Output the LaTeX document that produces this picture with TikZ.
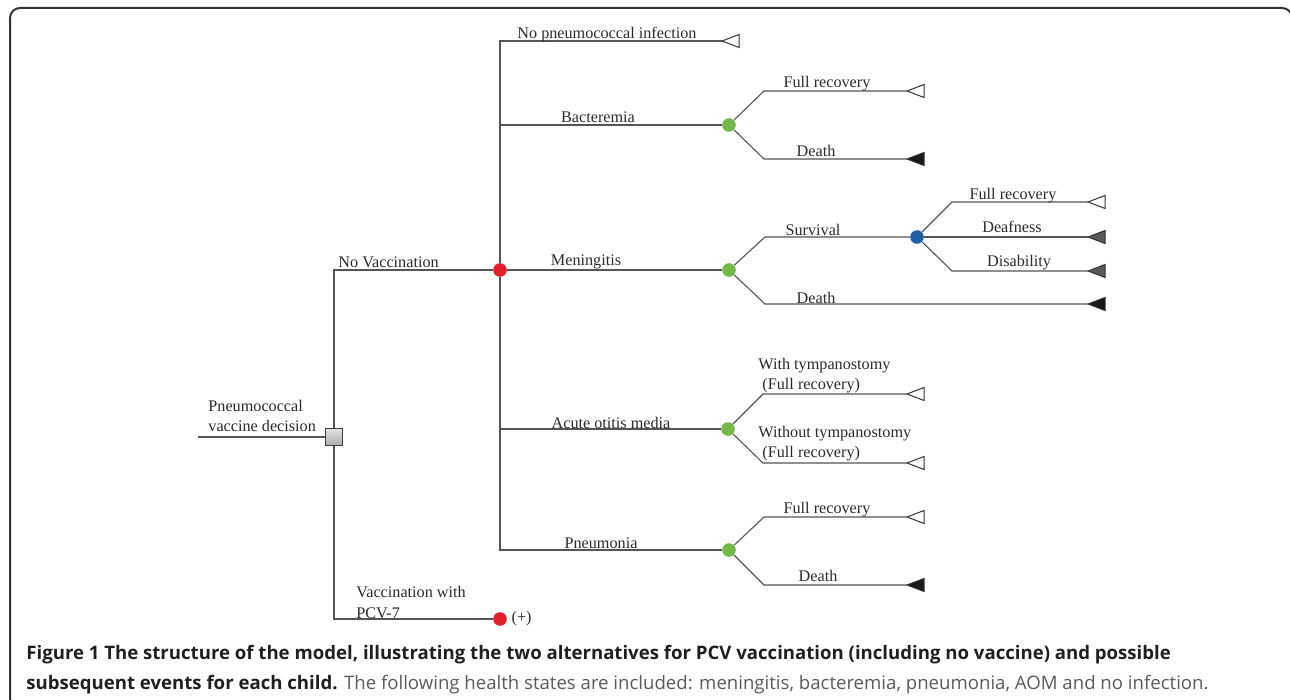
\documentclass[tikz,border=0pt]{standalone}
\usepackage{fontspec}
\setmainfont{Liberation Serif}
\newfontfamily\capfont{Open Sans}
\usetikzlibrary{positioning}

\definecolor{chancered}{HTML}{E3202A}
\definecolor{chancegreen}{HTML}{72B84A}
\definecolor{chanceblue}{HTML}{1F5FA8}
\definecolor{branchgray}{HTML}{555555}
\definecolor{textgray}{HTML}{2B2B2B}
\definecolor{capgray}{HTML}{5A5A5C}

\begin{document}
\begin{tikzpicture}[x=0.5pt,y=-0.5pt,
	branch/.style={draw=branchgray,line width=0.55pt},
	chance/.style={circle,inner sep=0pt,minimum size=6.8pt},
	decision/.style={draw=black!75,line width=0.6pt,top color=black!12,bottom color=black!32,
		minimum size=8.5pt,inner sep=0pt},
	lbl/.style={text=textgray,font=\fontsize{8.1}{10}\selectfont,inner sep=0pt,anchor=base}]

	\clip (0,0) rectangle (1290,700);
	\draw [line width=1pt,draw=black!80,rounded corners=5pt] (10,8) rectangle (1292,708);

	% decision and chance nodes
	\node [decision] (dec) at (334,437) {};
	\node [chance,fill=chancered] (nov) at (500,270) {};
	\node [chance,fill=chancered] (vac) at (500,619) {};
	\node [chance,fill=chancegreen] (bac) at (729,125) {};
	\node [chance,fill=chancegreen] (men) at (729,270) {};
	\node [chance,fill=chancegreen] (aom) at (728,429) {};
	\node [chance,fill=chancegreen] (pne) at (729,550) {};
	\node [chance,fill=chanceblue] (sur) at (917,237) {};

	% terminal nodes
	\foreach \name/\x/\y/\col in {noinf/722/41/white, bacfull/907/91/white, bacdeath/907/159/black!90,
		menfull/1088/202/white, mendeaf/1088/237/black!65, mendis/1088/271/black!65, mendeath/1088/304/black!90,
		aomwith/907/394/white, aomwithout/907/463/white, pnefull/907/517/white, pnedeath/907/585/black!90}
	{
		\coordinate (\name) at (\x,\y);
		\filldraw [draw=black!80,fill=\col,line width=0.5pt] (\name) -- ++(17,-6.5) -- ++(0,13) -- cycle;
	}

	% branches
	\coordinate (root) at (198,437);
	\draw [branch] (root) -- (dec);
	\draw [branch] (dec) |- (nov);
	\draw [branch] (dec) |- (vac);
	\draw [branch] (nov) |- (noinf);
	\draw [branch] (nov) |- (bac);
	\draw [branch] (nov) -- (men);
	\draw [branch] (nov) |- (aom);
	\draw [branch] (nov) |- (pne);

	\draw [branch] (bac) -- ++(35,-34) -- (bacfull);
	\draw [branch] (bac) -- ++(35,34) -- (bacdeath);
	\draw [branch] (men) -- ++(36,-33) -- (sur);
	\draw [branch] (men) -- ++(36,34) -- (mendeath);
	\draw [branch] (sur) -- ++(35,-35) -- (menfull);
	\draw [branch] (sur) -- (mendeaf);
	\draw [branch] (sur) -- ++(35,34) -- (mendis);
	\draw [branch] (aom) -- ++(35,-35) -- (aomwith);
	\draw [branch] (aom) -- ++(35,34) -- (aomwithout);
	\draw [branch] (pne) -- ++(35,-33) -- (pnefull);
	\draw [branch] (pne) -- ++(35,35) -- (pnedeath);

	% labels (base of a two-line label is its last line)
	\node [lbl,anchor=base west,align=left] (tdec) at (208,431) {Pneumococcal\\vaccine decision};
	\node [lbl,anchor=base west] (tnov) at (338,268) {No Vaccination};
	\node [lbl,anchor=base west,align=left,font=\fontsize{8.1}{10.5}\selectfont] (tvac) at (356,618) {Vaccination with\\PCV-7};
	\node [lbl,right=2pt of vac] (tplus) {(+)};
	\node [lbl,anchor=base west] (tnoinf) at (517,39) {No pneumococcal infection};
	\node [lbl] (tbac) at (598,123) {Bacteremia};
	\node [lbl] (tmen) at (586,266) {Meningitis};
	\node [lbl] (taom) at (611,428) {Acute otitis media};
	\node [lbl] (tpne) at (601,548) {Pneumonia};
	\node [lbl] (tbacfull) at (827,88) {Full recovery};
	\node [lbl] (tbacdeath) at (816,157) {Death};
	\node [lbl] (tsur) at (813,235) {Survival};
	\node [lbl] (tmendeath) at (816,303) {Death};
	\node [lbl] (tmenfull) at (1013,200) {Full recovery};
	\node [lbl] (tmendeaf) at (1012,233) {Deafness};
	\node [lbl] (tmendis) at (1019,267) {Disability};
	\node [lbl,anchor=base west,align=left] (taomwith) at (758,389) {With tympanostomy\\\ (Full recovery)};
	\node [lbl,anchor=base west,align=left] (taomwithout) at (758,457) {Without tympanostomy\\\ (Full recovery)};
	\node [lbl] (tpnefull) at (827,513) {Full recovery};
	\node [lbl] (tpnedeath) at (818,581) {Death};

	% caption
	\node [anchor=base west,inner sep=0pt,align=left,text=capgray,
		font=\capfont\fontsize{9.3}{15}\selectfont] (caption) at (26,689)
		{\textcolor{black!88}{\bfseries Figure 1 The structure of the model, illustrating the two alternatives for PCV vaccination (including no vaccine) and possible}\\
		\textcolor{black!88}{\bfseries subsequent events for each child.} The following health states are included: meningitis, bacteremia, pneumonia, AOM and no infection.};

\end{tikzpicture}
\end{document}
